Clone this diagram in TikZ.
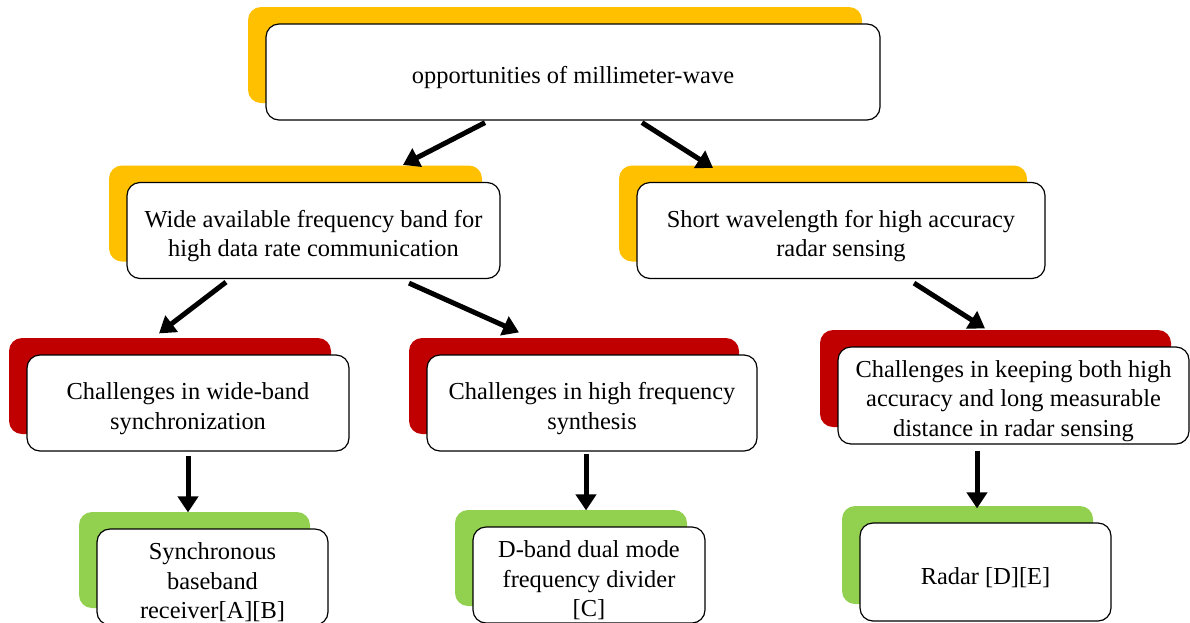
\documentclass[tikz,border=0pt]{standalone}
\usepackage{fontspec}
\setmainfont{Liberation Serif}
\newfontfamily\tnr{Liberation Serif}
\usetikzlibrary{arrows.meta, shadows}
\definecolor{gold}{HTML}{FFC000}
\definecolor{darkred}{HTML}{C00000}
\definecolor{leaf}{HTML}{92D050}
\newcommand{\tstrut}{\rule{0pt}{28pt}}

\begin{document}
\begin{tikzpicture}[x=1pt,y=-1pt,
		box/.style={draw=black, line width=1.2pt, fill=white, rounded corners=13pt,
			align=center, inner sep=0pt, minimum height=96pt,
			font=\tnr\fontsize{24.4}{29.5}\selectfont},
		goldbox/.style={box, drop shadow={shadow xshift=-18pt, shadow yshift=17pt, fill=gold, opacity=1}},
		redbox/.style={box, drop shadow={shadow xshift=-18pt, shadow yshift=17pt, fill=darkred, opacity=1}},
		greenbox/.style={box, drop shadow={shadow xshift=-18pt, shadow yshift=17pt, fill=leaf, opacity=1}},
		arr/.style={-{Triangle[length=16pt,width=20pt]}, line width=5pt, black}]
	\useasboundingbox (0,0) rectangle (1190,622);
	\clip (0,0) rectangle (1190,622);
	
	\node[goldbox, minimum width=614pt] (top) at (573,72) {\tstrut opportunities of millimeter-wave};
	
	\node[goldbox, minimum width=373pt] (wide) at (313.5,230.5) {\tstrut Wide available frequency band for\\high data rate communication};
	\node[goldbox, minimum width=408pt] (short) at (841,230.5) {\tstrut Short wavelength for high accuracy\\radar sensing};
	
	\node[redbox, minimum width=322pt] (sync) at (188,403) {\tstrut Challenges in wide-band\\synchronization};
	\node[redbox, minimum width=330pt] (synth) at (592,403) {\tstrut Challenges in high frequency\\synthesis};
	\node[redbox, minimum width=351pt, minimum height=97pt] (keep) at (1013.5,395.5) {\tstrut Challenges in keeping both high\\accuracy and long measurable\\distance in radar sensing};
	
	\node[greenbox, minimum width=231pt] (recv) at (212.5,577) {\tstrut Synchronous\\baseband\\receiver[A][B]};
	\node[greenbox, minimum width=232pt] (divider) at (589,575) {\tstrut D-band dual mode\\frequency divider\\{[C]}};
	\node[greenbox, minimum width=251pt, minimum height=98pt] (radar) at (985.5,572) {\tstrut Radar [D][E]};
	
	\path [arr] ([xshift=-88pt,yshift=-2pt]top.south) edge ([xshift=89.5pt,yshift=17pt]wide.north);
	\path [arr] ([xshift=69pt,yshift=-2pt]top.south) edge ([xshift=-128pt,yshift=14pt]short.north);
	\path [arr] ([xshift=-87.5pt,yshift=-3pt]wide.south) edge ([xshift=-29pt,yshift=21pt]sync.north);
	\path [arr] ([xshift=95.5pt,yshift=-4pt]wide.south) edge ([xshift=-73pt,yshift=22pt]synth.north);
	\path [arr] ([xshift=73pt,yshift=-4pt]short.south) edge ([xshift=-28.5pt,yshift=18pt]keep.north);
	\path [arr] ([yshift=-4pt]sync.south) edge ([xshift=-24.5pt,yshift=16pt]recv.north);
	\path [arr] ([xshift=-6pt,yshift=-2pt]synth.south) edge ([xshift=-3pt,yshift=16pt]divider.north);
	\path [arr] ([xshift=-36.5pt,yshift=-6pt]keep.south) edge ([xshift=-8.5pt,yshift=14pt]radar.north);
\end{tikzpicture}
\end{document}
